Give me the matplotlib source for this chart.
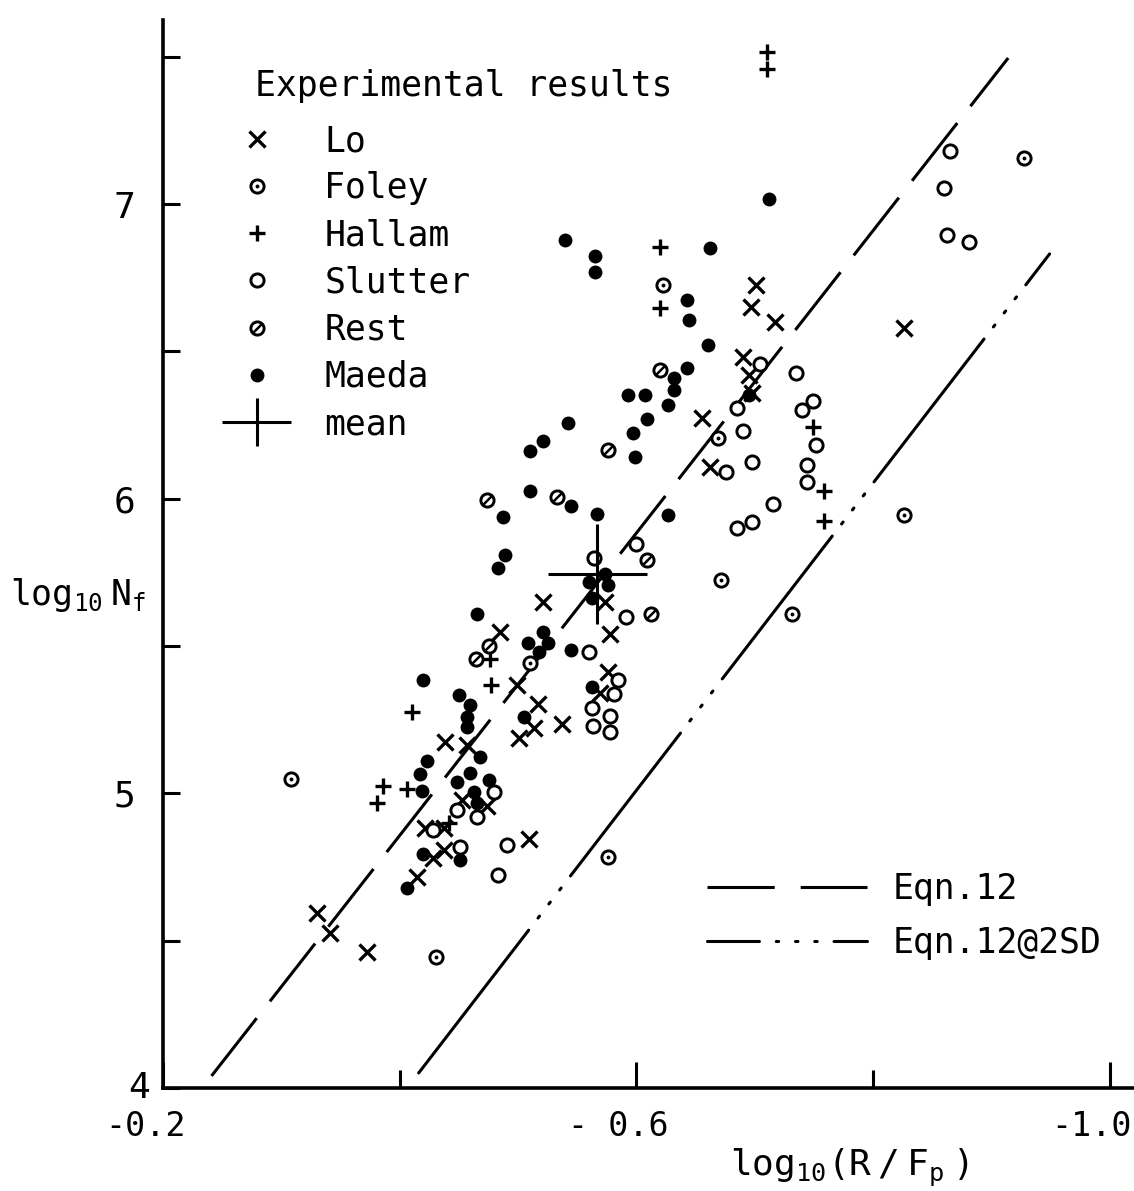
import matplotlib
matplotlib.use('Agg')
import matplotlib.pyplot as plt
import matplotlib.transforms as mtransforms
from matplotlib.lines import Line2D
from matplotlib.path import Path
from matplotlib.container import ErrorbarContainer
from matplotlib.legend_handler import HandlerErrorbar

plt.rcParams['font.family'] = 'DejaVu Sans Mono'
plt.rcParams['mathtext.fontset'] = 'custom'
plt.rcParams['mathtext.rm'] = 'DejaVu Sans Mono'
plt.rcParams['mathtext.it'] = 'DejaVu Sans Mono'

# ---- data: x = log10(R/Fp), y = log10 Nf ----
lo_x = [-0.330, -0.341, -0.372, -0.415, -0.428, -0.437, -0.421, -0.437, -0.453, -0.474, -0.509,
        -0.438, -0.457, -0.485, -0.499, -0.517, -0.513, -0.501, -0.537, -0.521, -0.573, -0.578,
        -0.576, -0.569, -0.655, -0.662, -0.690, -0.695, -0.698, -0.697, -0.701, -0.717, -0.826]
lo_y = [4.594, 4.526, 4.462, 4.716, 4.781, 4.808, 4.882, 4.882, 4.977, 4.957, 4.845,
        5.174, 5.164, 5.548, 5.368, 5.303, 5.222, 5.188, 5.235, 5.650, 5.650, 5.541,
        5.412, 5.341, 6.274, 6.108, 6.481, 6.420, 6.359, 6.651, 6.725, 6.600, 6.579]

foley_x = [-0.308, -0.431, -0.510, -0.576, -0.622, -0.669, -0.671, -0.731, -0.826, -0.927]
foley_y = [5.049, 4.445, 5.442, 4.784, 6.725, 6.206, 5.724, 5.609, 5.945, 7.156]

hallam_x = [-0.710, -0.710, -0.620, -0.620, -0.749, -0.758, -0.758, -0.476, -0.477, -0.410,
            -0.386, -0.381, -0.406, -0.442]
hallam_y = [7.516, 7.458, 6.854, 6.647, 6.243, 6.026, 5.924, 5.456, 5.368, 5.276,
            5.025, 4.969, 5.015, 4.899]

slutter_x = [-0.428, -0.448, -0.451, -0.465, -0.480, -0.491, -0.483, -0.564, -0.600, -0.591,
             -0.560, -0.584, -0.581, -0.562, -0.578, -0.578, -0.563, -0.685, -0.704, -0.690,
             -0.676, -0.698, -0.685, -0.698, -0.715, -0.735, -0.749, -0.740, -0.752, -0.744,
             -0.744, -0.865, -0.860, -0.862, -0.881]
slutter_y = [4.876, 4.945, 4.818, 4.920, 5.005, 4.825, 4.723, 5.799, 5.846, 5.599,
             5.480, 5.385, 5.337, 5.290, 5.263, 5.208, 5.229, 6.308, 6.457, 6.230,
             6.091, 6.125, 5.901, 5.921, 5.982, 6.427, 6.332, 6.301, 6.182, 6.114,
             6.057, 7.180, 7.055, 6.895, 6.871]

rest_x = [-0.474, -0.533, -0.576, -0.609, -0.612, -0.620, -0.475, -0.464]
rest_y = [5.996, 6.006, 6.165, 5.792, 5.609, 6.437, 5.500, 5.456]

maeda_x = [-0.540, -0.565, -0.565, -0.662, -0.643, -0.644, -0.660, -0.643, -0.712, -0.632,
           -0.632, -0.593, -0.607, -0.627, -0.609, -0.542, -0.597, -0.521, -0.510, -0.599,
           -0.510, -0.545, -0.567, -0.487, -0.627, -0.489, -0.483, -0.573, -0.560, -0.576,
           -0.562, -0.465, -0.521, -0.525, -0.518, -0.508, -0.545, -0.420, -0.450, -0.459,
           -0.457, -0.457, -0.505, -0.562, -0.468, -0.423, -0.417, -0.419, -0.459, -0.448,
           -0.475, -0.463, -0.465, -0.420, -0.451, -0.406, -0.695]
maeda_y = [6.878, 6.824, 6.769, 6.851, 6.674, 6.607, 6.522, 6.444, 7.017, 6.410,
           6.369, 6.352, 6.352, 6.318, 6.271, 6.257, 6.223, 6.196, 6.162, 6.142,
           6.026, 5.975, 5.948, 5.938, 5.945, 5.809, 5.765, 5.746, 5.717, 5.707,
           5.663, 5.609, 5.548, 5.510, 5.480, 5.510, 5.487, 5.385, 5.334, 5.300,
           5.259, 5.225, 5.259, 5.361, 5.123, 5.110, 5.066, 5.008, 5.069, 5.039,
           5.045, 5.005, 4.969, 4.794, 4.774, 4.679, 6.352]

mean_x, mean_y = [-0.567], [5.746]
mean_xerr, mean_yerr = [0.042], [0.17]

# Eqn.12 line and its 2SD line (end points)
eqn12_x = [-0.241, -0.914]
eqn12_y = [4.041, 7.496]
sd2_x = [-0.416, -0.949]
sd2_y = [4.051, 6.831]

xticks_major = [-0.2, -0.6, -1.0]
xticklabels = ['-0.2', '- 0.6', '-1.0']
xticks_minor = [-0.4, -0.8]
yticks_major = [4, 5, 6, 7]
yticks_minor = [4.5, 5.5, 6.5, 7.5]

fig = plt.figure(figsize=(11.34, 11.91), dpi=100)
ax = fig.add_axes([163/1134, 103/1191, 971/1134, 1068/1191])
ax.set_xlim(-0.2, -1.0203)
ax.set_ylim(4.0, 7.625)

lw = 2.2
eq_dash = (24, 7)
sd_dash = (59, 5, 0.8, 5, 0.8, 5, 0.8, 5)
ax.plot(eqn12_x, eqn12_y, color='k', lw=lw, dashes=eq_dash, zorder=1)
ax.plot(sd2_x, sd2_y, color='k', lw=lw, dashes=sd_dash, dash_capstyle='round', zorder=1)

slash = Path([(-0.5, -0.5), (0.5, 0.5)], [Path.MOVETO, Path.LINETO])

lo, = ax.plot(lo_x, lo_y, ls='none', marker='x', ms=11, mew=2.4, color='k')
fo1, = ax.plot(foley_x, foley_y, ls='none', marker='o', ms=9.5, mew=2.1, mfc='white', mec='k')
fo2, = ax.plot(foley_x, foley_y, ls='none', marker='o', ms=2.8, mew=0, color='k')
ha, = ax.plot(hallam_x, hallam_y, ls='none', marker='+', ms=11, mew=2.4, color='k')
sl, = ax.plot(slutter_x, slutter_y, ls='none', marker='o', ms=9.5, mew=2.1, mfc='white', mec='k')
re1, = ax.plot(rest_x, rest_y, ls='none', marker='o', ms=9.5, mew=2.1, mfc='white', mec='k')
re2, = ax.plot(rest_x, rest_y, ls='none', marker=slash, ms=6, mew=1.8, color='k')
ma, = ax.plot(maeda_x, maeda_y, ls='none', marker='o', ms=10, mew=0, color='k')
mean = ax.errorbar(mean_x, mean_y, xerr=mean_xerr, yerr=mean_yerr, fmt='none',
                   ecolor='k', elinewidth=lw, capsize=0)

# axes styling
for s in ['top', 'right']:
    ax.spines[s].set_visible(False)
for s in ['left', 'bottom']:
    ax.spines[s].set_linewidth(2.6)
ax.set_xticks(xticks_major)
ax.set_xticklabels(xticklabels)
ax.set_xticks(xticks_minor, minor=True)
ax.set_yticks(yticks_major)
ax.set_yticks(yticks_minor, minor=True)
ax.tick_params(axis='x', which='major', direction='in', length=19, width=2.2, pad=16, labelsize=24)
ax.tick_params(axis='x', which='minor', direction='in', length=13, width=2.2)
ax.tick_params(axis='y', which='both', direction='in', length=12, width=2.2, pad=20, labelsize=26)

off = mtransforms.ScaledTranslation(-0.18, 0, fig.dpi_scale_trans)
for lab in ax.get_xticklabels():
    lab.set_transform(lab.get_transform() + off)
ylabs = ax.get_yticklabels()
ylabs[0].set_transform(ylabs[0].get_transform()
                       + mtransforms.ScaledTranslation(0.15, 0.03, fig.dpi_scale_trans))

# legends
ax.text(0.0947, 0.938, 'Experimental results', transform=ax.transAxes, fontsize=25,
        ha='left', va='center')
leg1 = ax.legend(handles=[lo, (fo1, fo2), ha, sl, (re1, re2), ma, mean],
                 labels=['Lo', 'Foley', 'Hallam', 'Slutter', 'Rest', 'Maeda', 'mean'],
                 handler_map={ErrorbarContainer: HandlerErrorbar(xerr_size=1.0, yerr_size=0.68)},
                 loc='upper left', bbox_to_anchor=(222/1134, 1 - 124/1191),
                 bbox_transform=fig.transFigure, frameon=False, fontsize=25,
                 handlelength=2.0, handletextpad=0.95, labelspacing=0.38,
                 borderpad=0, borderaxespad=0)
ax.add_artist(leg1)

h_eq = Line2D([], [], color='k', lw=lw, dashes=(22, 8.5))
h_sd = Line2D([], [], color='k', lw=lw, dashes=(17, 5.5, 0.8, 5.5, 0.8, 5.5, 0.8, 5.5),
              dash_capstyle='round')
ax.legend(handles=[h_eq, h_sd], labels=['Eqn.12', 'Eqn.12@2SD'],
          loc='upper left', bbox_to_anchor=(707/1134, 1 - 872/1191),
          bbox_transform=fig.transFigure, frameon=False, fontsize=25,
          handlelength=4.6, handletextpad=0.75, labelspacing=0.59,
          borderpad=0, borderaxespad=0)

# axis labels
fig.text(10/1134, 1 - 595/1191, r'$\mathregular{log_{10}\ N_f}$', fontsize=25,
         ha='left', va='center')
fig.text(730/1134, 1 - 1168/1191, r'$\mathregular{log_{10}(R\ /\ F_p\ )}$', fontsize=26,
         ha='left', va='center')

fig.savefig('out.png', dpi=100)
